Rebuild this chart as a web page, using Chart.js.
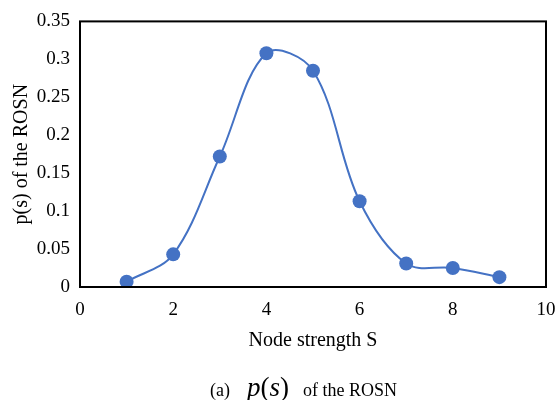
<!DOCTYPE html>
<html>
<head>
<meta charset="utf-8">
<script src="https://cdn.jsdelivr.net/npm/chart.js@4.4.1/dist/chart.umd.min.js"></script>
<style>
  html, body { margin: 0; padding: 0; background: #fff; }
  #wrap { position: relative; width: 556px; height: 400px; }
  #caption {
    position: absolute; left: 210px; top: 372px; height: 30px; line-height: 30px;
    font-family: "Liberation Serif", serif; font-size: 18px; color: #000;
    white-space: pre;
  }
  #caption .m { font-size: 27px; margin: 0 14px 0 17px; }
</style>
</head>
<body>
<div id="wrap">
  <canvas id="chart" width="556" height="400"></canvas>
  <div id="caption">(a)<span class="m"><i>p</i>(<i>s</i>)</span>of the ROSN</div>
</div>
<script>
document.addEventListener('DOMContentLoaded', function() {

    // data
    const strengths = [1, 2, 3, 4, 5, 6, 7, 8, 9];
    const probabilities = [0.007, 0.043, 0.172, 0.308, 0.285, 0.113, 0.031, 0.025, 0.013];
    const xTicks = [0, 2, 4, 6, 8, 10];
    const yTicks = [0, 0.05, 0.1, 0.15, 0.2, 0.25, 0.3, 0.35];

    const BLUE = '#4472C4';
    const serif = 'Liberation Serif';

    // box around the plot area
    const frame = {
        id: 'frame',
        afterDraw(chart) {
            const a = chart.chartArea;
            const ctx = chart.ctx;
            ctx.save();
            ctx.strokeStyle = '#000';
            ctx.lineWidth = 2;
            ctx.strokeRect(a.left, a.top, a.right - a.left, a.bottom - a.top);
            ctx.restore();
        }
    };

    new Chart(document.getElementById('chart'), {
        type: 'scatter',
        data: {
            datasets: [{
                data: strengths.map((s, i) => ({ x: s, y: probabilities[i] })),
                showLine: true,
                borderColor: BLUE,
                borderWidth: 2,
                backgroundColor: BLUE,
                pointRadius: 7,
                pointBorderWidth: 0,
                tension: 0.35
            }]
        },
        options: {
            responsive: false,
            animation: false,
            layout: { padding: { left: 0, right: 0, top: 19, bottom: 43 } },
            plugins: { legend: { display: false }, tooltip: { enabled: false } },
            scales: {
                x: {
                    type: 'linear', min: 0, max: 10,
                    afterBuildTicks: s => { s.ticks = xTicks.map(v => ({ value: v })); },
                    grid: { display: false, drawTicks: false },
                    border: { display: false },
                    ticks: { color: '#000', font: { family: serif, size: 19 }, padding: 12 },
                    title: { display: true, text: 'Node strength S', color: '#000',
                             font: { family: serif, size: 20 }, padding: { top: 6 } },
                    afterFit: s => { s.height = 70; s.paddingLeft = 0; s.paddingRight = 10; }
                },
                y: {
                    min: 0, max: 0.35,
                    afterBuildTicks: s => { s.ticks = yTicks.map(v => ({ value: v })); },
                    grid: { display: false, drawTicks: false },
                    border: { display: false },
                    ticks: { color: '#000', font: { family: serif, size: 19 }, padding: 10,
                             callback: v => String(+v.toFixed(2)) },
                    title: { display: true, text: 'p(s) of the ROSN', color: '#000',
                             font: { family: serif, size: 20 }, padding: { top: 10, bottom: 0 } },
                    afterFit: s => { s.width = 80; }
                }
            }
        },
        plugins: [frame]
    });
});
</script>
</body>
</html>
